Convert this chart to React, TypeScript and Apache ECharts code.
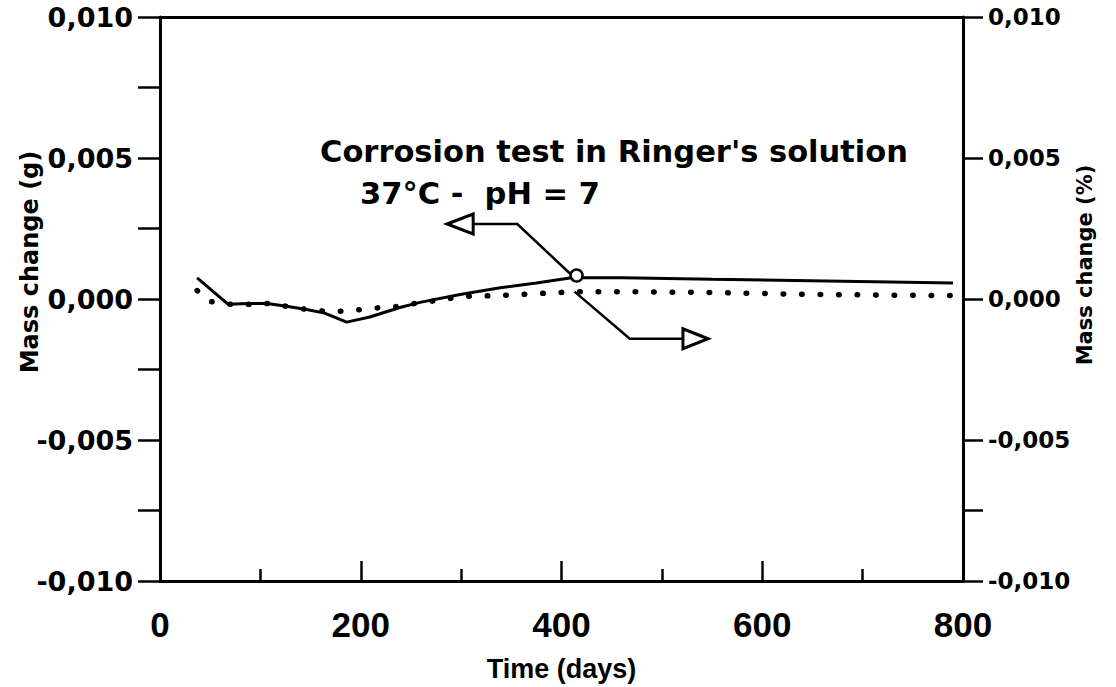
import React, { useEffect, useRef } from "react";
import * as echarts from "echarts";

// Time (days) and mass change values
const solidDays = [37, 68, 88, 107, 126, 146, 164, 186, 209, 239, 259, 299, 339, 375, 410, 460, 550, 680, 790];
const solidMass = [0.00075, -0.00019, -0.00016, -0.00016, -0.00026, -0.00037, -0.0005, -0.00082, -0.00064, -0.0003, -0.00012, 0.00016, 0.0004, 0.00057, 0.00075, 0.00075, 0.0007, 0.00063, 0.00057];

const dottedDays = [37, 50, 68, 88, 107, 126, 146, 164, 183, 202, 221, 240, 259, 279, 299, 336, 375, 414, 455, 550, 650, 790];
const dottedMass = [0.0003, -0.00009, -0.00019, -0.00019, -0.00016, -0.00026, -0.00037, -0.00043, -0.00043, -0.00037, -0.0003, -0.00026, -0.00012, -0.00005, 0.00009, 0.00012, 0.00019, 0.00026, 0.00026, 0.00023, 0.00016, 0.00012];

const xTickLabels = ["0", "200", "400", "600", "800"];
const yLeftTickValues = [-0.01, -0.005, 0, 0.005, 0.01];
const yLeftTickLabels = ["-0,010", "-0,005", "0,000", "0,005", "0,010"];
const yRightTickLabels = ["-0,010", "-0,005", "0,000", "0,005", "0,010"];
const yRightTickValues = [-0.01, -0.0075, -0.005, 0, 0.005, 0.01];

// annotation pointers, in data coordinates (days, g)
const leftPointerTip = [286, 0.00266];
const leftPointerLine = [[312, 0.00266], [356, 0.00266], [410, 0.00085]];
const circleCenter = [415, 0.00085];
const rightPointerLine = [[413, 0.00026], [468, -0.00141], [521, -0.00141]];
const rightPointerTip = [546, -0.00141];

const titleLine1 = "Corrosion test in Ringer's solution";
const titleLine2 = "37°C -  pH = 7";

const BLACK = "#000";
const FONT = "'DejaVu Sans', 'Liberation Sans', sans-serif";
const FONT_NARROW = "'Liberation Sans Narrow', 'Liberation Sans', sans-serif";

function labelFor(values: number[], labels: string[], v: number) {
  for (let i = 0; i < values.length; i++) {
    if (Math.abs(values[i] - v) < 1e-9) return labels[i];
  }
  return "";
}

export default function App() {
  const ref = useRef<HTMLDivElement>(null);

  useEffect(() => {
    if (!ref.current) return;
    const chart = echarts.init(ref.current, undefined, { renderer: "svg" });
    const option: any = {
      animation: false,
      backgroundColor: "#fff",
      grid: { left: 160, right: 153, top: 17, bottom: 95, containLabel: false },
      xAxis: [
        {
          type: "value",
          position: "bottom",
          min: 0,
          max: 800,
          interval: 200,
          axisLine: { show: true, onZero: false, lineStyle: { color: BLACK, width: 3 } },
          axisTick: { show: true, inside: true, length: 20, lineStyle: { color: BLACK, width: 2.5 } },
          minorTick: { show: true, splitNumber: 2, length: 12, lineStyle: { color: BLACK, width: 2.5 } },
          splitLine: { show: false },
          minorSplitLine: { show: false },
          axisLabel: {
            color: BLACK,
            fontFamily: FONT_NARROW,
            fontWeight: "bold",
            fontSize: 35,
            margin: 26,
            formatter: (v: number) => xTickLabels[Math.round(v / 200)] ?? "",
          },
          name: "Time (days)",
          nameLocation: "middle",
          nameGap: 74,
          nameTextStyle: { color: BLACK, fontFamily: FONT_NARROW, fontWeight: "bold", fontSize: 27 },
        },
        {
          type: "value",
          position: "top",
          min: 0,
          max: 800,
          axisLine: { show: true, onZero: false, lineStyle: { color: BLACK, width: 3 } },
          axisTick: { show: false },
          axisLabel: { show: false },
          splitLine: { show: false },
        },
      ],
      yAxis: [
        {
          type: "value",
          position: "left",
          min: -0.01,
          max: 0.01,
          interval: 0.005,
          axisLine: { show: true, onZero: false, lineStyle: { color: BLACK, width: 3 } },
          axisTick: { show: true, inside: false, length: 22, lineStyle: { color: BLACK, width: 2.5 } },
          minorTick: { show: true, splitNumber: 2, length: 22, lineStyle: { color: BLACK, width: 2.5 } },
          splitLine: { show: false },
          minorSplitLine: { show: false },
          axisLabel: {
            color: BLACK,
            fontFamily: FONT,
            fontWeight: "bold",
            fontSize: 27,
            margin: 27,
            formatter: (v: number) => labelFor(yLeftTickValues, yLeftTickLabels, v),
          },
        },
        {
          type: "value",
          position: "right",
          min: -0.01,
          max: 0.01,
          interval: 0.005,
          axisLine: { show: true, onZero: false, lineStyle: { color: BLACK, width: 3 } },
          axisTick: {
            show: true,
            inside: false,
            length: 20,
            customValues: yRightTickValues,
            lineStyle: { color: BLACK, width: 2.5 },
          },
          splitLine: { show: false },
          axisLabel: {
            color: BLACK,
            fontFamily: FONT,
            fontWeight: "bold",
            fontSize: 23,
            margin: 25,
            formatter: (v: number) => labelFor(yLeftTickValues, yRightTickLabels, v),
          },
        },
      ],
      series: [
        {
          type: "line",
          xAxisIndex: 0,
          yAxisIndex: 0,
          data: solidDays.map((d, i) => [d, solidMass[i]]),
          symbol: "none",
          lineStyle: { color: BLACK, width: 3 },
          z: 3,
        },
        {
          type: "line",
          xAxisIndex: 0,
          yAxisIndex: 1,
          data: dottedDays.map((d, i) => [d, dottedMass[i]]),
          symbol: "none",
          lineStyle: { color: BLACK, width: 5.5, type: [0.5, 18], cap: "round" },
          z: 2,
        },
      ],
      graphic: [
        {
          type: "text",
          left: 320,
          top: 136,
          style: { text: titleLine1, fill: BLACK, font: `bold 30.5px ${FONT}` },
        },
        {
          type: "text",
          left: 360,
          top: 178,
          style: { text: titleLine2, fill: BLACK, font: `bold 30.5px ${FONT}` },
        },
        {
          type: "text",
          x: 30,
          y: 262,
          rotation: Math.PI / 2,
          style: {
            text: "Mass change (g)",
            fill: BLACK,
            font: `bold 24px ${FONT}`,
            align: "center",
            verticalAlign: "middle",
          },
        },
        {
          type: "text",
          x: 1085,
          y: 265,
          rotation: Math.PI / 2,
          style: {
            text: "Mass change (%)",
            fill: BLACK,
            font: `bold 21px ${FONT}`,
            align: "center",
            verticalAlign: "middle",
          },
        },
      ],
    };
    chart.setOption(option);

    const px = (p: number[]) => chart.convertToPixel({ xAxisIndex: 0, yAxisIndex: 0 }, p) as number[];
    const lTip = px(leftPointerTip);
    const lLine = leftPointerLine.map(px);
    const circ = px(circleCenter);
    const rLine = rightPointerLine.map(px);
    const rTip = px(rightPointerTip);
    const annot: any[] = [
      {
        type: "polygon",
        shape: { points: [lTip, [lLine[0][0], lTip[1] - 10], [lLine[0][0], lTip[1] + 10]] },
        style: { fill: "#fff", stroke: BLACK, lineWidth: 3 },
        z: 10,
      },
      {
        type: "polyline",
        shape: { points: lLine },
        style: { stroke: BLACK, lineWidth: 2.5, fill: null },
        z: 10,
      },
      {
        type: "circle",
        shape: { cx: circ[0], cy: circ[1], r: 6 },
        style: { fill: "#fff", stroke: BLACK, lineWidth: 2.5 },
        z: 11,
      },
      {
        type: "polyline",
        shape: { points: rLine },
        style: { stroke: BLACK, lineWidth: 2.5, fill: null },
        z: 10,
      },
      {
        type: "polygon",
        shape: { points: [rTip, [rLine[2][0], rTip[1] - 10], [rLine[2][0], rTip[1] + 10]] },
        style: { fill: "#fff", stroke: BLACK, lineWidth: 3 },
        z: 10,
      },
    ];
    chart.setOption({ graphic: [...option.graphic, ...annot] }, { replaceMerge: ["graphic"] });

    return () => chart.dispose();
  }, []);

  return (
    <div
      ref={ref}
      style={{ position: "fixed", left: 0, top: 0, width: 1116, height: 687, background: "#fff" }}
    />
  );
}
